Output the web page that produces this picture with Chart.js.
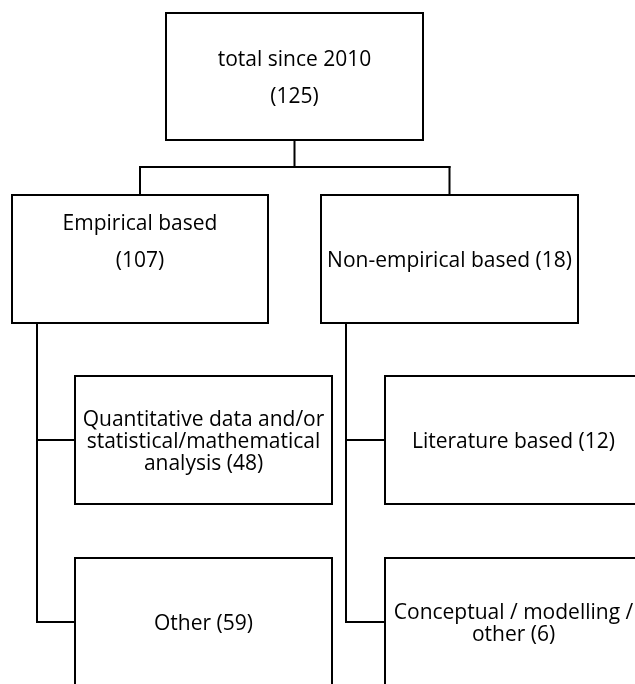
<!DOCTYPE html>
<html lang="en">
<head>
  <meta charset="UTF-8">
  <title>Publications by method</title>
  <script src="https://cdn.jsdelivr.net/npm/chart.js"></script>
  <style>
    body {
      margin: 0;
      background: white;
    }
    #chartContainer {
      width: 635px;
      height: 684px;
    }
  </style>
</head>
<body>
  <div id="chartContainer">
    <canvas id="treeChart"></canvas>
  </div>

  <script>
    // Tree data: node names, counts and parent index (-1 = root)
    const nodeNames = [
      'total since 2010',
      'Empirical based',
      'Non-empirical based',
      'Quantitative data and/or statistical/mathematical analysis',
      'Other',
      'Literature based',
      'Conceptual / modelling / other'
    ];
    const nodeCounts = [125, 107, 18, 48, 59, 12, 6];
    const nodeParents = [-1, 0, 0, 1, 1, 2, 2];

    // Layout of each box in page units (x to the right, y downwards)
    // split: count goes on its own paragraph; textY: centre of the text block
    const layout = [
      { x0: 166, x1: 423, y0: 13,  y1: 140, split: true },
      { x0: 12,  x1: 268, y0: 195, y1: 323, split: true, textY: 241 },
      { x0: 321, x1: 578, y0: 195, y1: 323 },
      { x0: 75,  x1: 332, y0: 376, y1: 504 },
      { x0: 75,  x1: 332, y0: 558, y1: 686 },
      { x0: 385, x1: 642, y0: 376, y1: 504 },
      { x0: 385, x1: 642, y0: 558, y1: 686 }
    ];
    const busY = 167;       // horizontal bus under the root
    const sideOffset = 25;  // side trunk offset for the lower levels

    const FONT = '21px "Open Sans"';
    const LINE = 22;
    const PARA = 37;
    const TEXT_SHIFT = 2;   // optical baseline correction

    // Build line segments (boxes + connectors)
    const segments = [];
    layout.forEach(b => {
      segments.push([
        { x: b.x0, y: b.y0 }, { x: b.x1, y: b.y0 }, { x: b.x1, y: b.y1 },
        { x: b.x0, y: b.y1 }, { x: b.x0, y: b.y0 }
      ]);
    });

    // root -> level 1: bus connectors
    const root = layout[0];
    const rootCx = (root.x0 + root.x1) / 2;
    const lvl1 = nodeParents.map((p, i) => p === 0 ? i : -1).filter(i => i >= 0);
    const lvl1Cx = lvl1.map(i => (layout[i].x0 + layout[i].x1) / 2);
    segments.push([{ x: rootCx, y: root.y1 }, { x: rootCx, y: busY }]);
    segments.push([{ x: Math.min(...lvl1Cx), y: busY }, { x: Math.max(...lvl1Cx), y: busY }]);
    lvl1.forEach((i, k) => {
      segments.push([{ x: lvl1Cx[k], y: busY }, { x: lvl1Cx[k], y: layout[i].y0 }]);
    });

    // level 1 -> level 2: side trunk
    lvl1.forEach(p => {
      const pb = layout[p];
      const tx = pb.x0 + sideOffset;
      const kids = nodeParents.map((q, i) => q === p ? i : -1).filter(i => i >= 0);
      const ys = kids.map(i => Math.round((layout[i].y0 + layout[i].y1) / 2));
      segments.push([{ x: tx, y: pb.y1 }, { x: tx, y: Math.max(...ys) }]);
      kids.forEach((i, k) => {
        segments.push([{ x: tx, y: ys[k] }, { x: layout[i].x0, y: ys[k] }]);
      });
    });

    const datasets = segments.map(pts => ({
      data: pts,
      showLine: true,
      borderColor: '#000',
      borderWidth: 2,
      borderJoinStyle: 'miter',
      borderCapStyle: 'square',
      pointRadius: 0,
      tension: 0,
      fill: false
    }));

    function wrapText(ctx, text, maxW) {
      const words = text.split(' ');
      const lines = [];
      let cur = '';
      words.forEach(w => {
        const test = cur ? cur + ' ' + w : w;
        if (ctx.measureText(test).width > maxW && cur) {
          lines.push(cur);
          cur = w;
        } else {
          cur = test;
        }
      });
      if (cur) lines.push(cur);
      return lines;
    }

    const labelPlugin = {
      id: 'boxLabels',
      afterDatasetsDraw(chart) {
        const { ctx, scales: { x, y } } = chart;
        ctx.save();
        ctx.font = FONT;
        ctx.fillStyle = '#000';
        ctx.textAlign = 'center';
        ctx.textBaseline = 'middle';
        nodeNames.forEach((name, i) => {
          const b = layout[i];
          const px0 = x.getPixelForValue(b.x0), px1 = x.getPixelForValue(b.x1);
          const cx = (px0 + px1) / 2;
          const cy = y.getPixelForValue(b.textY !== undefined ? b.textY : (b.y0 + b.y1) / 2) + TEXT_SHIFT;
          const maxW = px1 - px0 - 6;
          let lines, gaps;
          if (b.split) {
            lines = [name, '(' + nodeCounts[i] + ')'];
            gaps = PARA;
          } else {
            lines = wrapText(ctx, name + ' (' + nodeCounts[i] + ')', maxW);
            gaps = LINE;
          }
          const top = cy - (lines.length - 1) * gaps / 2;
          lines.forEach((l, k) => ctx.fillText(l, cx, top + k * gaps));
        });
        ctx.restore();
      }
    };

    new Chart(document.getElementById('treeChart'), {
      type: 'scatter',
      data: { datasets: datasets },
      options: {
        responsive: true,
        maintainAspectRatio: false,
        animation: false,
        layout: { padding: 0 },
        plugins: {
          legend: { display: false },
          tooltip: { enabled: false }
        },
        scales: {
          x: { type: 'linear', min: 0, max: 635, display: false },
          y: { type: 'linear', min: 0, max: 684, reverse: true, display: false }
        }
      },
      plugins: [labelPlugin]
    });
  </script>
</body>
</html>
